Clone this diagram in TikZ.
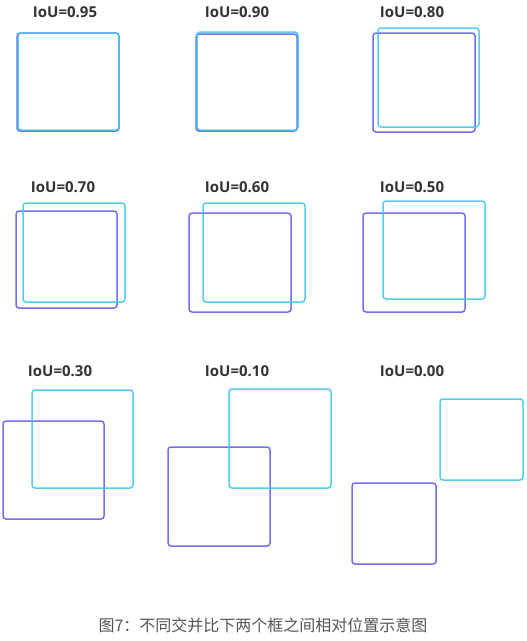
\documentclass[tikz,border=0pt]{standalone}
\usepackage{fontspec}
\setmainfont{Open Sans}
\newfontfamily\capfont{Noto Sans CJK SC}
\usepackage{tikz}
\usetikzlibrary{positioning}
\definecolor{cPred}{RGB}{112,112,240}
\definecolor{cTruth}{RGB}{70,198,236}
\definecolor{cLabel}{RGB}{51,51,51}
\definecolor{cCap}{RGB}{85,85,85}

\begin{document}
\begin{tikzpicture}[x=1pt,y=-1pt,
    boxline/.style={line width=1.5pt,rounded corners=3pt},
    iou/.style={font=\fontsize{15}{15}\selectfont\bfseries,text=cLabel,inner sep=0pt}]
  \useasboundingbox (0,0) rectangle (527,641);
  % blue box first, cyan box on top
  \foreach \bxa/\bya/\bxb/\byb/\cxa/\cya/\cxb/\cyb in {
     17/33/119/131/18/33/119/130,
     196/34/297/131/197/32/298/130,
     373/33/475/132/378/28/479/127,
     16/211/117/308/23/203/125/302,
     189/213/291/312/203/203/305/302,
     363/213/465/312/383/201/485/299,
     3/421/104/519/32/390/133/488,
     168/447/270/546/229/389/331/488,
     352/483/436/564/440/399/523/480} {
    \draw[boxline,cPred] (\bxa,\bya) rectangle (\bxb,\byb);
    \draw[boxline,cTruth,draw opacity=0.9] (\cxa,\cya) rectangle (\cxb,\cyb);
  }
  % labels
  \foreach \v/\x/\y [count=\i] in {
     0.95/65/12, 0.90/237/12, 0.80/412/12,
     0.70/63/187, 0.60/237/187, 0.50/412/187,
     0.30/60/371, 0.10/237/371, 0.00/412/371}
    \node[iou] (lab\i) at (\x,\y) {IoU=\v};
  \node[font=\capfont\fontsize{16}{16}\selectfont,text=cCap,inner sep=0pt] (caption) at (263,625)
    {图7：不同交并比下两个框之间相对位置示意图};
\end{tikzpicture}
\end{document}
